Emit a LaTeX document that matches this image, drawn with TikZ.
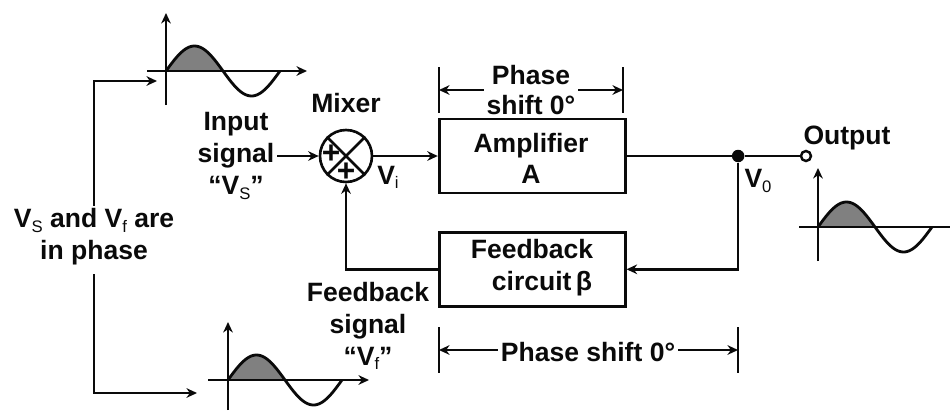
\documentclass[tikz,border=0pt]{standalone}
\usepackage{fontspec}
\setmainfont{Liberation Sans}
\usetikzlibrary{arrows.meta,positioning,calc}
\definecolor{Ink}{HTML}{0A0A0A}
\definecolor{Shade}{HTML}{808080}
\newcommand{\sgn}[1]{V\raisebox{-0.3ex}{\fontsize{9.5}{9.5}\selectfont\mdseries #1}}

\begin{document}
\begin{tikzpicture}[x=0.02cm, y=-0.02cm, every node/.style={font=\fontsize{15.1}{18.2}\selectfont\bfseries, text=Ink, align=center, inner sep=1.5pt},
  wire/.style={line width=1.45pt, color=Ink},
  arr/.style={wire, -{Stealth[length=6pt,width=5.5pt]}},
  plussign/.style={font=\fontsize{18}{18}\selectfont\bfseries, inner sep=0pt},
  blockbox/.style={draw=Ink, line width=1.6pt, minimum width=3.72cm, minimum height=1.48cm, fill=white}]
\useasboundingbox (0,0) rectangle (950,410);
\node[draw=Ink, line width=1.5pt, circle, minimum size=1.04cm, inner sep=0pt] (mixer) at (346,156) {};
\node[blockbox, right=1.29cm of mixer] (amp) {};
\node[blockbox, below=0.73cm of amp] (fb) {};
\node[circle, fill=Ink, minimum size=0.25cm, inner sep=0pt, right=2.1cm of amp] (dot) {};
\node[circle, draw=Ink, line width=1.4pt, fill=white, minimum size=0.2cm, inner sep=0pt, right=1.1cm of dot] (out) {};
% texts
\node at (531,158) (amptxt) {Amplifier\\[-0.5pt]A};
\node at (532,268) (fbtxt) {Feedback\\\hspace*{0.4cm}circuit\,β};
\node at (346,103) (mixtxt) {Mixer};
\node at (236,156) (inlbl) {Input\\signal\\“\sgn{S}”};
\node at (388,177) (vi) {\sgn{i}};
\node at (758,181) (vo) {\sgn{0}};
\node at (847,138) (outlbl) {Output};
\node at (368,326) (fblbl) {Feedback\\signal\\“\sgn{f}”};
\node at (94,237) (phlbl) {\sgn{S} and \sgn{f} are\\in phase};
\node at (531,90) (shifttop) {Phase\\[-1pt]shift 0°};
\node at (588,352) (shiftbot) {Phase shift 0°};
\node[plussign] at (331,154) (plusa) {+};
\node[plussign] at (346,172) (plusb) {+};
\draw[wire] (mixer.north west) -- (mixer.south east);
\draw[wire] (mixer.north east) -- (mixer.south west);
% connectors
\draw[arr] (inlbl.east |- mixer.west) -- (mixer.west);
\draw[arr] (mixer.east) -- (amp.west);
\draw[wire] (amp.east) -- (dot);
\draw[wire] (dot) -- (out);
\draw[arr] (dot) |- (fb.east);
\draw[arr] (fb.west) -| (mixer.south);
% phase shift marks
\foreach \tname/\tx/\ta/\tb in {ta/439/67/113, tb/623/67/113, tc/439/327/373, td/738/327/373} {
  \coordinate (\tname1) at (\tx,\ta);
  \coordinate (\tname2) at (\tx,\tb);
  \draw[wire] (\tname1) -- (\tname2);
}
\draw[arr] (shifttop.west |- 0,90) -- (ta1 |- 0,90);
\draw[arr] (shifttop.east |- 0,90) -- (tb1 |- 0,90);
\draw[arr] (shiftbot.west |- 0,350) -- (tc1 |- 0,350);
\draw[arr] (shiftbot.east |- 0,350) -- (td1 |- 0,350);
% waveforms
\foreach \wname/\wx/\wy/\wl/\wt/\wb/\wr in {wa/166/71/147/13/105/307, wb/228/380/208/322/410/369, wc/818/227/799/168/261/950} {
  \fill[Shade] plot[domain=0:57, samples=30] ({\wx+\x},{\wy-25*sin(\x/57*180)}) -- cycle;
  \draw[wire, line width=1.6pt] plot[domain=0:114, samples=60] ({\wx+\x},{\wy-25*sin(\x/57*180)});
  \coordinate (\wname l) at (\wl,\wy);
  \coordinate (\wname r) at (\wr,\wy);
  \coordinate (\wname t) at (\wx,\wt);
  \coordinate (\wname b) at (\wx,\wb);
  \draw[arr] (\wname b) -- (\wname t);
}
\draw[arr] (wal) -- (war);
\draw[arr] (wbl) -- (wbr);
\draw[wire] (wcl) -- (wcr);
% in phase branches
\coordinate (inend) at (157,81);
\coordinate (fbend) at (197,393);
\draw[arr] (phlbl.north) |- (inend);
\draw[arr] ([yshift=-0.12cm]phlbl.south) |- (fbend);
\end{tikzpicture}
\end{document}
